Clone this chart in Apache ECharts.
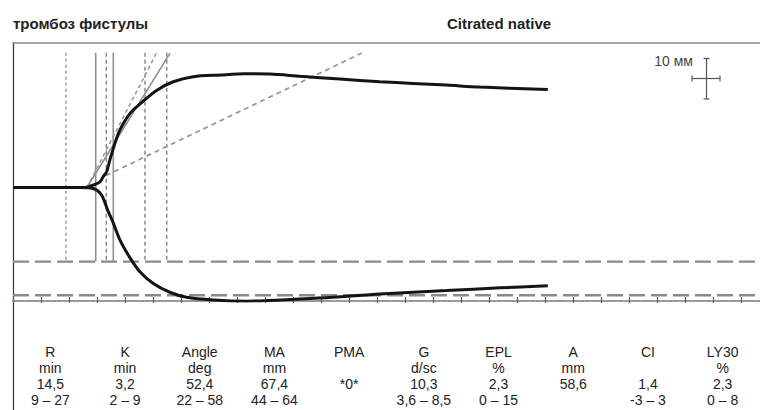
<!DOCTYPE html>
<html><head><meta charset="utf-8">
<script src="https://cdn.jsdelivr.net/npm/echarts@6/dist/echarts.min.js"></script>
<style>html,body{margin:0;padding:0;background:#fff}#c{width:760px;height:410px}</style>
</head><body><div id="c"></div><script>
// time in minutes, amplitude in mm (0 = trace baseline)
const upperCurve = [[0,0],[12.9,0],[14.3,0.7],[15.5,1.6],[16.1,3.2],[16.7,4.6],[17.3,8.2],[18.2,13.1],[19.1,17.1],[20.9,22.0],[23.3,25.7],[25.7,28.9],[28.6,31.4],[32.2,32.9],[37.0,33.4],[41.4,33.75],[45.9,33.7],[51.3,33.0],[58.4,32.2],[65.5,31.4],[71.4,30.9],[77.4,30.4],[83.4,29.8],[95.5,29.1]];
const lowerCurve = [[0,0],[12.0,0],[14.3,-0.3],[15.8,-2.2],[16.9,-6.7],[17.9,-10.5],[19.1,-15.6],[20.9,-20.9],[22.7,-25.1],[25.05,-28.5],[28.0,-31.1],[31.0,-32.6],[35.8,-33.4],[41.7,-33.75],[51.3,-33.1],[57.1,-32.6],[65.5,-31.6],[77.4,-30.6],[87.0,-29.8],[95.5,-29.2]];
const paramNames  = ['R','K','Angle','MA','PMA','G','EPL','A','CI','LY30'];
const paramUnits  = ['min','min','deg','mm',' ','d/sc','%','mm',' ','%'];
const paramValues = ['14,5','3,2','52,4','67,4','*0*','10,3','2,3','58,6','1,4','2,3'];
const paramRanges = ['9 – 27','2 – 9','22 – 58','44 – 64',' ','3,6 – 8,5','0 – 15',' ','-3 – 3','0 – 8'];
const dottedMarkers = [9.46];
const solidMarkers = [14.77, 17.91];
const dashedMarkers = [16.66, 23.57, 27.45];
const markerSpan = [40, -22];
const maRangeLines = [-22, -32];
const angleSolid = [[13.2,0],[28.04,39.9]];
const angleDashed = [[13.2,0],[25.66,40]];
const shallowDashed = [[16.6,3.56],[62.27,39.9]];
const timeMax = 133.39, ampMin = -33.7, ampMax = 42.9, tickStep = 5;
const titleLeft = 'тромбоз фистулы', titleMid = 'Citrated native', scaleText = '10 мм';

const FONT = '"Liberation Sans", Arial, sans-serif';
const chart = echarts.init(document.getElementById('c'), null, {renderer:'svg'});
const base = {type:'line', xAxisIndex:0, yAxisIndex:0, symbol:'none', silent:true, animation:false};
const series = [];
maRangeLines.forEach(v => series.push(Object.assign({}, base, {data:[[0,v],[timeMax,v]], lineStyle:{color:'#8a8a8a', width:2.4, type:[16,6]}, z:2})));
dottedMarkers.forEach(t => series.push(Object.assign({}, base, {data:[[t,markerSpan[0]],[t,markerSpan[1]]], lineStyle:{color:'#8f8f8f', width:1.3, type:[3,3]}, z:2})));
solidMarkers.forEach(t => series.push(Object.assign({}, base, {data:[[t,markerSpan[0]],[t,markerSpan[1]]], lineStyle:{color:'#8f8f8f', width:1.6, type:'solid'}, z:2})));
dashedMarkers.forEach(t => series.push(Object.assign({}, base, {data:[[t,markerSpan[0]],[t,markerSpan[1]]], lineStyle:{color:'#8a8a8a', width:1.5, type:[4,3]}, z:2})));
series.push(Object.assign({}, base, {data:angleSolid, lineStyle:{color:'#8c8c8c', width:1.5}, z:3}));
series.push(Object.assign({}, base, {data:angleDashed, lineStyle:{color:'#999', width:1.6, type:[4,3]}, z:3}));
series.push(Object.assign({}, base, {data:shallowDashed, lineStyle:{color:'#999', width:1.8, type:[5,4]}, z:3}));
series.push(Object.assign({}, base, {data:upperCurve, smooth:0.3, lineStyle:{color:'#141414', width:3}, z:5}));
series.push(Object.assign({}, base, {data:lowerCurve, smooth:0.3, lineStyle:{color:'#141414', width:3}, z:5}));

const cats = paramNames.map((n,i) => [n, paramUnits[i], paramValues[i], paramRanges[i]].join('\n'));

chart.setOption({
  animation:false,
  grid:[{left:13, right:0, top:43, height:258}, {left:13, right:0, top:301, bottom:0}],
  xAxis:[
    {gridIndex:0, type:'value', min:0, max:timeMax, interval:tickStep, position:'bottom',
     axisLine:{show:true, onZero:false, lineStyle:{color:'#9a9a9a', width:2}},
     axisTick:{show:true, inside:true, length:4, lineStyle:{color:'#e8252e', width:1.2}},
     axisLabel:{show:false}, splitLine:{show:false}},
    {gridIndex:0, type:'value', min:0, max:timeMax, interval:tickStep, position:'bottom',
     axisLine:{show:false, onZero:false},
     axisTick:{show:true, inside:false, length:2, lineStyle:{color:'#e8252e', width:1.2}},
     axisLabel:{show:false}, splitLine:{show:false}},
    {gridIndex:0, type:'value', min:0, max:timeMax, position:'top',
     axisLine:{show:true, onZero:false, lineStyle:{color:'#8a8a8a', width:1.6}},
     axisTick:{show:false}, axisLabel:{show:false}, splitLine:{show:false}},
    {gridIndex:1, type:'category', data:cats, position:'bottom',
     axisLine:{show:false}, axisTick:{show:false}, splitLine:{show:false},
     axisLabel:{inside:true, interval:0, margin:2, color:'#222', fontFamily:FONT, fontSize:14, lineHeight:16}}
  ],
  yAxis:[
    {gridIndex:0, type:'value', min:ampMin, max:ampMax,
     axisLine:{show:true, onZero:false, lineStyle:{color:'#333', width:1.2}},
     axisTick:{show:false}, axisLabel:{show:false}, splitLine:{show:false}},
    {gridIndex:1, type:'value',
     axisLine:{show:true, onZero:false, lineStyle:{color:'#333', width:1.2}},
     axisTick:{show:false}, axisLabel:{show:false}, splitLine:{show:false}}
  ],
  series:series,
  graphic:[
    {type:'text', x:13, y:23.3, style:{text:titleLeft, font:'bold 15px '+FONT, fill:'#222', verticalAlign:'middle', align:'left'}},
    {type:'text', x:499, y:23.3, style:{text:titleMid, font:'bold 15px '+FONT, fill:'#222', verticalAlign:'middle', align:'center'}},
    {type:'text', x:693, y:61, style:{text:scaleText, font:'14px '+FONT, fill:'#444', verticalAlign:'middle', align:'right'}},
    {type:'line', shape:{x1:706.5,y1:58.5,x2:706.5,y2:99}, style:{stroke:'#555', lineWidth:1.2}},
    {type:'line', shape:{x1:703.5,y1:58.5,x2:709.5,y2:58.5}, style:{stroke:'#555', lineWidth:1.2}},
    {type:'line', shape:{x1:703.5,y1:99,x2:709.5,y2:99}, style:{stroke:'#555', lineWidth:1.2}},
    {type:'line', shape:{x1:692,y1:78.5,x2:720,y2:78.5}, style:{stroke:'#555', lineWidth:1.2}},
    {type:'line', shape:{x1:692,y1:75.5,x2:692,y2:81.5}, style:{stroke:'#555', lineWidth:1.2}},
    {type:'line', shape:{x1:720,y1:75.5,x2:720,y2:81.5}, style:{stroke:'#555', lineWidth:1.2}}
  ]
});
</script></body></html>
